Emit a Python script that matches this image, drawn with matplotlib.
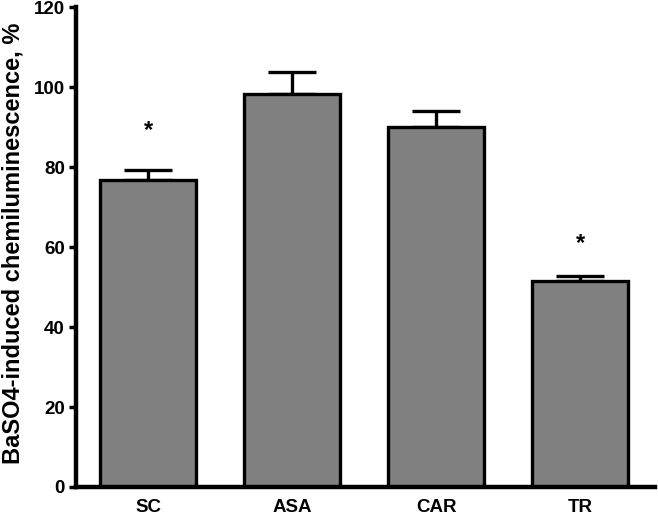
import matplotlib
matplotlib.use("Agg")
import matplotlib.pyplot as plt

categories = ["SC", "ASA", "CAR", "TR"]
values = [76.7, 98.4, 90.0, 51.6]
errors = [2.7, 5.5, 4.1, 1.1]
significant = [True, False, False, True]
star_y = [89.2, None, None, 60.9]
yticks = [0, 20, 40, 60, 80, 100, 120]

plt.rcParams['font.family'] = ['Liberation Sans', 'DejaVu Sans']
plt.rcParams['font.weight'] = 'bold'

fig = plt.figure(figsize=(6.58, 5.15), dpi=100)
ax = fig.add_axes([0.1155, 0.0544, 0.995 - 0.1155, 0.986 - 0.0544])

x = list(range(len(categories)))
ax.bar(x, values, width=0.667, color="#808080", edgecolor="black", linewidth=2.4, zorder=2)
ax.errorbar(x, values, yerr=[[0]*len(errors), errors], fmt="none", ecolor="black",
            elinewidth=2.4, capsize=17, capthick=2.4, zorder=1)
for xi, sig, sy in zip(x, significant, star_y):
    if sig:
        ax.text(xi, sy, "*", ha="center", va="center", fontsize=17, fontweight="bold")

ax.set_xlim(-0.503, 3.517)
ax.set_ylim(0, 120)
ax.set_yticks(yticks)
ax.set_xticks(x)
ax.set_xticklabels(categories, fontsize=13.5, fontweight="bold")
ax.tick_params(axis="x", length=0, pad=9)
ax.tick_params(axis="y", length=5, width=2.5, labelsize=13.5, pad=3)
for lbl in ax.get_yticklabels():
    lbl.set_fontweight("bold")
ax.spines["top"].set_visible(False)
ax.spines["right"].set_visible(False)
ax.spines["left"].set_linewidth(3.2)
ax.spines["bottom"].set_linewidth(3.2)
fig.text(13 / 658, 1 - 243 / 515, "BaSO4-induced chemiluminescence, %", rotation=90,
         ha="center", va="center", fontsize=17, fontweight="bold")

fig.savefig("out.png", dpi=100)
